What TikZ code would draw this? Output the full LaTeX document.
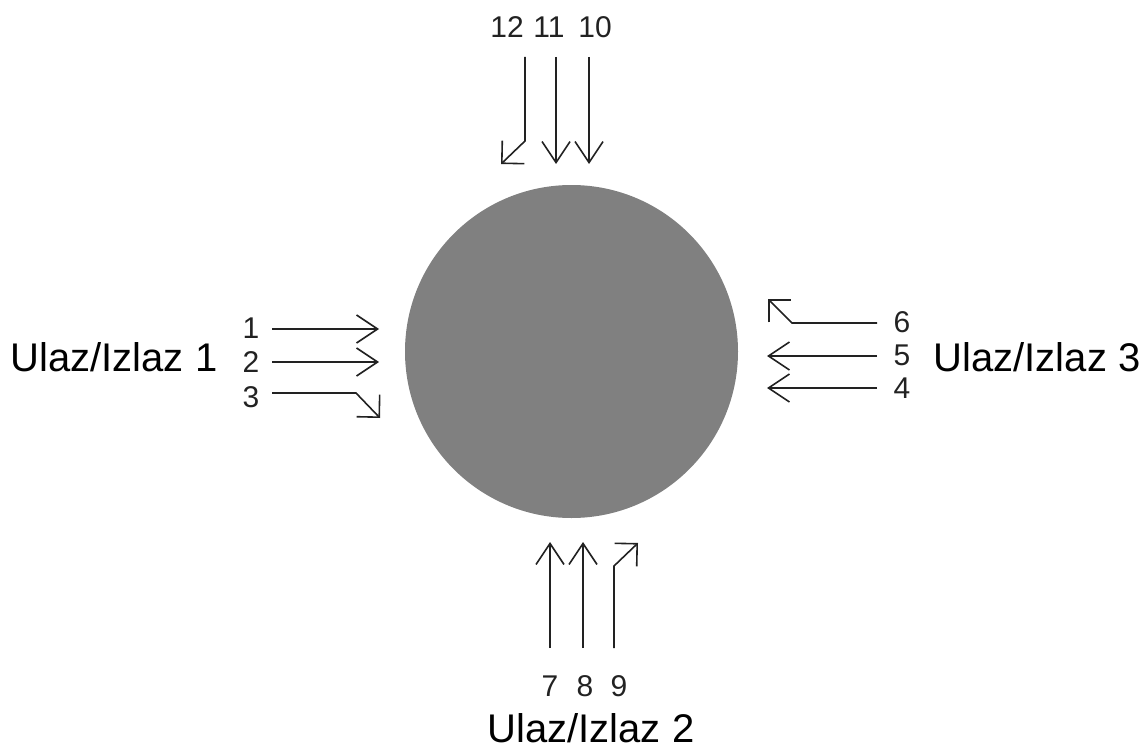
\documentclass[tikz,border=0pt]{standalone}
\usepackage{fontspec}
\setmainfont{Liberation Sans}
\usetikzlibrary{arrows.meta}
\definecolor{hubgray}{HTML}{808080}
\definecolor{ink}{HTML}{222222}
\begin{document}
\begin{tikzpicture}[x=0.5pt,y=-0.5pt,
  num/.style={font=\fontsize{15pt}{18pt}\selectfont, text=ink, inner sep=0pt},
  port/.style={font=\fontsize{20pt}{24pt}\selectfont, text=black, inner sep=0pt},
  flow/.style={draw=ink, line width=0.8pt, -{Straight Barb[length=10.5pt,width=14pt,line width=0.8pt]}},
  turn/.style={draw=ink, line width=0.8pt, -{Straight Barb[length=8pt,width=16pt,line width=0.8pt]}}]
\useasboundingbox (0,0) rectangle (1146,749);
\node[circle, fill=hubgray, minimum size=166.5pt, inner sep=0pt] (hub) at (571.5,351.5) {};

% left: Ulaz/Izlaz 1
\node[port] (p1) at (114,357) {Ulaz/Izlaz 1};
\node[num] (n1) at (251,328) {1};
\node[num] (n2) at (251,362) {2};
\node[num] (n3) at (251,397) {3};
\coordinate (a1s) at (272,329); \coordinate (a1e) at (379,329);
\coordinate (a2s) at (272,362); \coordinate (a2e) at (379,362);
\coordinate (a3s) at (272,393); \coordinate (a3k) at (356,393); \coordinate (a3e) at (380,418);
\draw[flow] (a1s) -- (a1e);
\draw[flow] (a2s) -- (a2e);
\draw[turn] (a3s) -- (a3k) -- (a3e);

% right: Ulaz/Izlaz 3
\node[port] (p3) at (1037,357) {Ulaz/Izlaz 3};
\node[num] (n6) at (902,322) {6};
\node[num] (n5) at (902,355) {5};
\node[num] (n4) at (902,388) {4};
\coordinate (a6s) at (877,323); \coordinate (a6k) at (792,323); \coordinate (a6e) at (768,299);
\coordinate (a5s) at (877,356); \coordinate (a5e) at (767,356);
\coordinate (a4s) at (877,388); \coordinate (a4e) at (767,388);
\draw[turn] (a6s) -- (a6k) -- (a6e);
\draw[flow] (a5s) -- (a5e);
\draw[flow] (a4s) -- (a4e);

% bottom: Ulaz/Izlaz 2
\node[port] (p2) at (591,728) {Ulaz/Izlaz 2};
\node[num] (n7) at (550,686) {7};
\node[num] (n8) at (585,686) {8};
\node[num] (n9) at (619,686) {9};
\coordinate (a7s) at (550,648); \coordinate (a7e) at (550,542);
\coordinate (a8s) at (583,648); \coordinate (a8e) at (583,542);
\coordinate (a9s) at (614,648); \coordinate (a9k) at (614,566); \coordinate (a9e) at (638,543);
\draw[flow] (a7s) -- (a7e);
\draw[flow] (a8s) -- (a8e);
\draw[turn] (a9s) -- (a9k) -- (a9e);

% top
\node[num] (n12) at (507,27) {12};
\node[num] (n11) at (549,27) {11};
\node[num] (n10) at (595,27) {10};
\coordinate (a12s) at (525,57); \coordinate (a12k) at (525,141); \coordinate (a12e) at (501,164);
\coordinate (a11s) at (556,57); \coordinate (a11e) at (556,164);
\coordinate (a10s) at (589,57); \coordinate (a10e) at (589,164);
\draw[turn] (a12s) -- (a12k) -- (a12e);
\draw[flow] (a11s) -- (a11e);
\draw[flow] (a10s) -- (a10e);
\end{tikzpicture}
\end{document}
